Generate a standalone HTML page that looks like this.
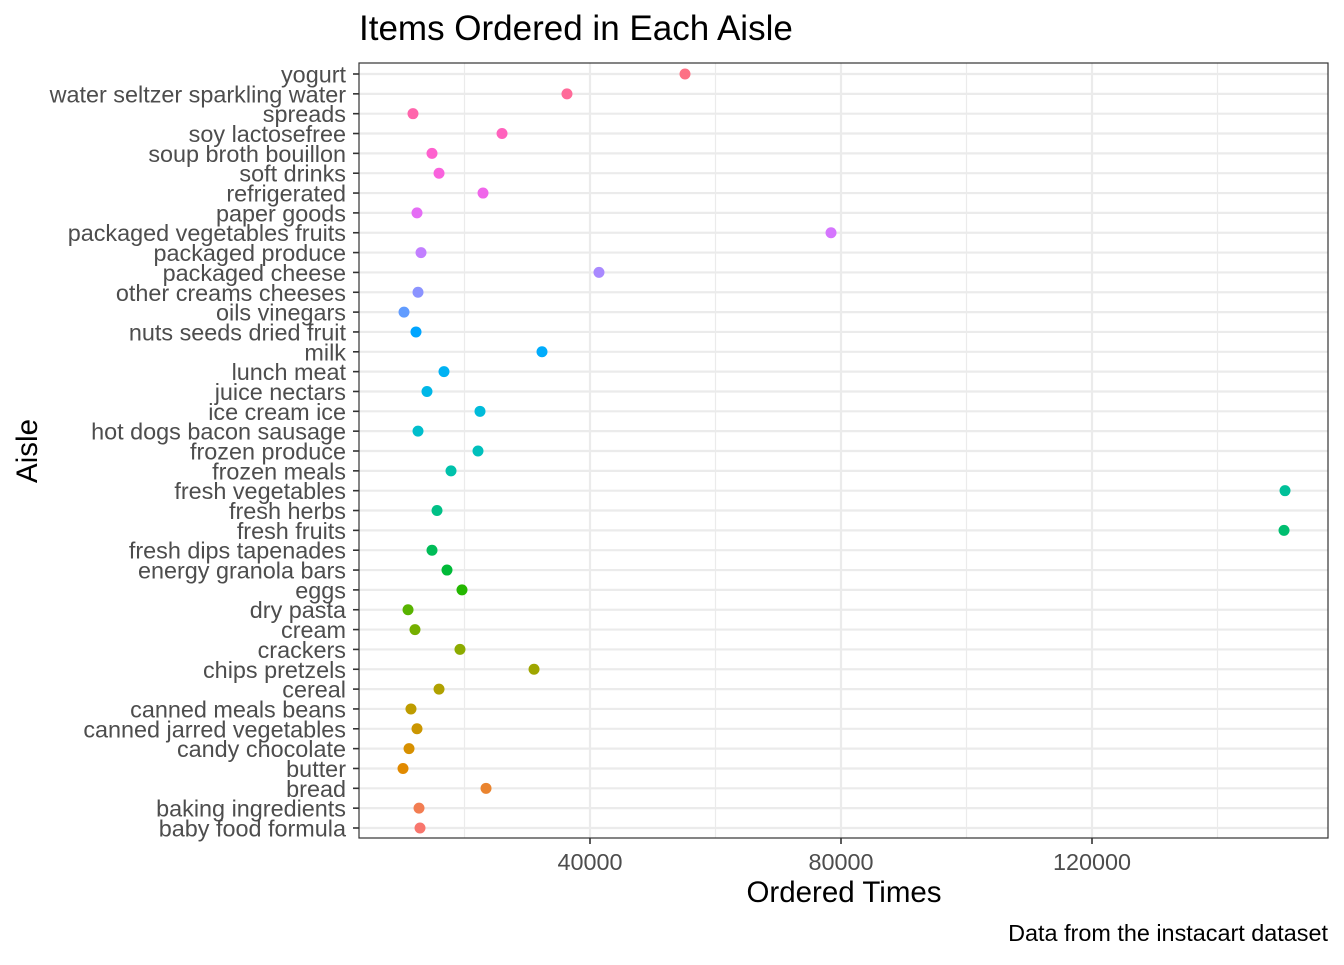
<!DOCTYPE html>
<html><head><meta charset="utf-8"><style>
body{margin:0;background:#fff}
svg text{font-family:"Liberation Sans",Arial,sans-serif}
</style></head><body>
<svg id="chart" width="1344" height="960" xmlns="http://www.w3.org/2000/svg">
<rect width="1344" height="960" fill="#fff"/>
<text x="359" y="40" font-size="35" fill="#000">Items Ordered in Each Aisle</text>
<g id="grid"></g><g id="pts"></g><g id="axes"></g>
<rect x="359" y="63" width="969" height="775" fill="none" stroke="#333" stroke-width="1.2"/>
<text x="844" y="902" font-size="29.5" text-anchor="middle" fill="#000">Ordered Times</text>
<text transform="translate(37,451) rotate(-90)" font-size="29.5" text-anchor="middle" fill="#000">Aisle</text>
<text x="1328" y="941" font-size="23.4" text-anchor="end" fill="#000">Data from the instacart dataset</text>
</svg>
<script>
const categories=["baby food formula","baking ingredients","bread","butter","candy chocolate","canned jarred vegetables","canned meals beans","cereal","chips pretzels","crackers","cream","dry pasta","eggs","energy granola bars","fresh dips tapenades","fresh fruits","fresh herbs","fresh vegetables","frozen meals","frozen produce","hot dogs bacon sausage","ice cream ice","juice nectars","lunch meat","milk","nuts seeds dried fruit","oils vinegars","other creams cheeses","packaged cheese","packaged produce","packaged vegetables fruits","paper goods","refrigerated","soft drinks","soup broth bouillon","soy lactosefree","spreads","water seltzer sparkling water","yogurt"];
const values=[12910,12750,23430,10200,11160,12430,11470,15940,31080,19280,12110,11000,19600,17210,14820,150600,15620,150760,17850,22150,12590,22470,14020,16730,32350,12270,10360,12590,41430,13070,78410,12430,22950,15940,14820,25980,11790,36330,55140];
const majorTicks=[40000,80000,120000];
const minorTicks=[20000,60000,100000,140000];
const NS="http://www.w3.org/2000/svg";
const x=v=>339+v*251/40000;
const n=categories.length;
const y=i=>828-i*(828-74)/(n-1);
function mk(tag,attrs,parent){const e=document.createElementNS(NS,tag);for(const k in attrs)e.setAttribute(k,attrs[k]);parent.appendChild(e);return e;}
function hcl(h,c,l){h=h*Math.PI/180;const L=l,U=c*Math.cos(h),V=c*Math.sin(h);
 const Xn=95.047,Yn=100,Zn=108.883;const un=4*Xn/(Xn+15*Yn+3*Zn),vn=9*Yn/(Xn+15*Yn+3*Zn);
 const Y=L>8?Yn*Math.pow((L+16)/116,3):Yn*L/903.3;const u=U/(13*L)+un,v=V/(13*L)+vn;
 const X=9*Y*u/(4*v),Z=(12-3*u-20*v)*Y/(4*v);
 const xx=X/100,yy=Y/100,zz=Z/100;
 let r=3.2406*xx-1.5372*yy-0.4986*zz,g=-0.9689*xx+1.8758*yy+0.0415*zz,b=0.0557*xx-0.2040*yy+1.0570*zz;
 const f=t=>{t=t<=0.0031308?12.92*t:1.055*Math.pow(t,1/2.4)-0.055;return Math.round(Math.max(0,Math.min(1,t))*255);};
 return `rgb(${f(r)},${f(g)},${f(b)})`;}
const grid=document.getElementById('grid'),pts=document.getElementById('pts'),axes=document.getElementById('axes');
minorTicks.forEach(t=>{const l=mk('line',{x1:x(t),x2:x(t),y1:63,y2:838,stroke:'#ebebeb','stroke-width':1.2},grid);

});
majorTicks.forEach(t=>{const l=mk('line',{x1:x(t),x2:x(t),y1:63,y2:838,stroke:'#ebebeb','stroke-width':2.2},grid);


const tk=mk('line',{x1:x(t),x2:x(t),y1:838,y2:844,stroke:'#333','stroke-width':1.6},axes);


const tx=mk('text',{x:x(t),y:870,'font-size':23.4,'text-anchor':'middle',fill:'#4d4d4d'},axes);tx.textContent=t;

});
categories.forEach((c,i)=>{
 const g=mk('line',{x1:359,x2:1328,y1:y(i),y2:y(i),stroke:'#ebebeb','stroke-width':2.2},grid);
 
 
 const tk=mk('line',{x1:353,x2:359,y1:y(i),y2:y(i),stroke:'#333','stroke-width':1.6},axes);
 
 
 const t=mk('text',{x:346,y:y(i)+8.5,'font-size':23.4,'text-anchor':'end',fill:'#4d4d4d'},axes);t.textContent=c;
 
 
 const hue=15+i*360/n;
 const p=mk('circle',{cx:x(values[i]),cy:y(i),r:5.5,fill:hcl(hue,100,65)},pts);
 
 
});
</script>
</body></html>
